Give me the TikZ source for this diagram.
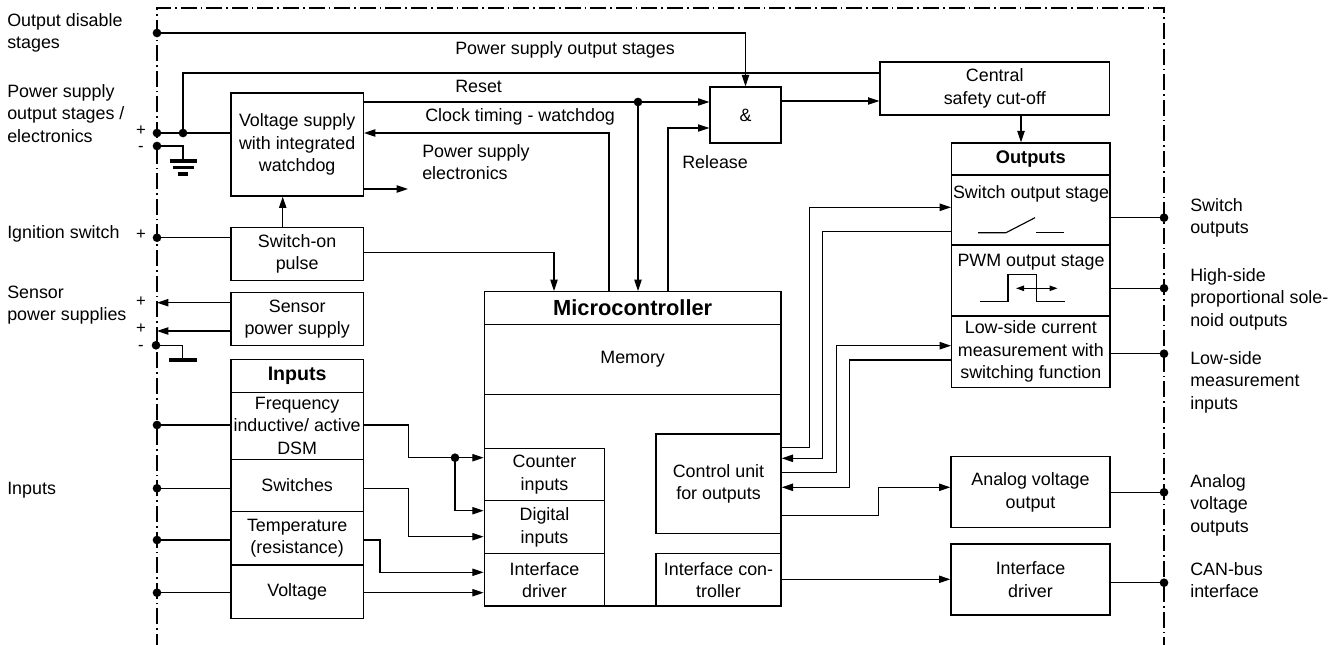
\documentclass[tikz,border=0pt]{standalone}
\usepackage{fontspec}
\setmainfont{Liberation Sans}
\usetikzlibrary{arrows.meta}
\newcommand\fsz{\fontsize{13.4}{16.8}\selectfont}
\newcommand\bx[6]{\node[box, minimum width={((#4)-(#2))*0.75pt}, minimum height={((#5)-(#3))*0.75pt}] (#1) at ({((#2)+(#4))/2},{((#3)+(#5))/2}) {#6};}
\tikzset{
  every node/.style={font=\fsz, inner sep=0pt, align=center},
  box/.style={draw, line width=1pt},
  wire/.style={line width=0.85pt},
  arr/.style={wire, -{Triangle[length=8.5pt,width=5.5pt]}},
  dot/.style={circle, fill, draw=none, minimum size=6.5pt, inner sep=0pt},
  bar/.style={line width=2.8pt},
  lbl/.style={anchor=west, align=left},
  sign/.style={font=\fontsize{12.5}{13}\selectfont, text height=0.55em, text depth=0pt},
  border/.style={line width=0.8pt, dash pattern=on 12pt off 3pt on 1.2pt off 3pt},
}
\begin{document}
\begin{tikzpicture}[x=0.75pt, y=-0.75pt]
\useasboundingbox (0,0) rectangle (1334,645);
% boundary
\draw[border] (157,650) -- (157,8) -- (1164,8) -- (1164,650);

% left labels
\node[lbl] (lOD) at (7,33) {Output disable\\stages};
\node[lbl] (lPS) at (7,113.3) {Power supply\\output stages /\\electronics};
\node[lbl] (lIg) at (7,234) {Ignition switch};
\node[lbl] (lSe) at (7,305) {Sensor\\power supplies};
\node[lbl] (lIn) at (7,490) {Inputs};
\node[sign] (p1) at (141,131.5) {+};
\node[sign] (m1) at (141,147.5) {-};
\node[sign] (p2) at (141,236) {+};
\node[sign] (p3) at (141,303) {+};
\node[sign] (p4) at (141,330) {+};
\node[sign] (m2) at (141,347) {-};

% right labels
\node[lbl] (rSw) at (1190,218) {Switch\\outputs};
\node[lbl] (rHs) at (1190,299) {High-side\\proportional sole-\\noid outputs};
\node[lbl] (rLs) at (1190,382) {Low-side\\measurement\\inputs};
\node[lbl] (rAn) at (1190,505) {Analog\\voltage\\outputs};
\node[lbl] (rCan) at (1190,580) {CAN-bus\\interface};

% boxes
\bx{vs}{231}{93}{363.3}{196}{Voltage supply\\with integrated\\watchdog}
\bx{sop}{231}{227.3}{363.3}{280.7}{Switch-on\\pulse}
\bx{sps}{231}{292.3}{363.3}{345.7}{Sensor\\power supply}
\bx{inT}{231}{359.3}{363.3}{392.3}{\fontsize{14.7}{16}\selectfont\bfseries Inputs}
\bx{inF}{231}{392.3}{363.3}{459.3}{Frequency\\inductive/ active\\DSM}
\bx{inS}{231}{459.3}{363.3}{511.7}{Switches}
\bx{inTe}{231}{511.7}{363.3}{565}{Temperature\\(resistance)}
\bx{inV}{231}{565}{363.3}{618.3}{Voltage}
\bx{and}{710}{87}{781}{143}{\&}
\bx{csc}{880}{62}{1109.5}{115}{Central\\safety cut-off}
\bx{outT}{951.7}{143}{1110}{175}{\fontsize{13.7}{16}\selectfont\bfseries Outputs}
\bx{outS}{951.7}{175}{1110}{245}{}
\bx{outP}{951.7}{245}{1110}{316}{}
\bx{outL}{951.7}{316}{1110}{387.3}{Low-side current\\measurement with\\switching function}
\bx{mc}{484.3}{291.7}{781}{606}{}
\bx{mcT}{484.3}{291.7}{781}{324.3}{\fontsize{16.4}{18}\selectfont\bfseries Microcontroller}
\bx{mem}{484.3}{324.3}{781}{394.3}{Memory}
\bx{cnt}{484.3}{448.3}{604.7}{500.7}{Counter\\inputs}
\bx{dig}{484.3}{500.7}{604.7}{553.7}{Digital\\inputs}
\bx{idm}{484.3}{553.7}{604.7}{606}{Interface\\driver}
\bx{cu}{656}{434}{781}{533.3}{Control unit\\for outputs}
\bx{ic}{656}{553.7}{781}{606}{Interface con-\\troller}
\bx{avo}{951}{456.7}{1110}{527.7}{Analog voltage\\output}
\bx{idr}{951}{544}{1110}{615}{Interface\\driver}

\node (tSOS) at (1031,194) {Switch output stage};
\node (tPWM) at (1031,262) {PWM output stage};

% free labels
\node[lbl] (tPSO) at (455,50) {Power supply output stages};
\node[lbl] (tRes) at (455,86) {Reset};
\node[lbl] (tClk) at (425,117) {Clock timing - watchdog};
\node[lbl] (tPSE) at (422,162) {Power supply\\electronics};
\node[lbl] (tRel) at (682,162) {Release};

% dots
\node[dot] (dOD) at (157,33) {};
\node[dot] (dP1) at (157,133) {};
\node[dot] (dP2) at (183,133) {};
\node[dot] (dG1) at (157,146) {};
\node[dot] (dIg) at (157,237.7) {};
\node[dot] (dG2) at (156,345.3) {};
\node[dot] (dI1) at (157,425) {};
\node[dot] (dI2) at (157,488.3) {};
\node[dot] (dI3) at (157,540) {};
\node[dot] (dI4) at (157,592.7) {};
\node[dot] (dR) at (638,102) {};
\node[dot] (dJ) at (455,457.7) {};
\node[dot] (dO1) at (1164,217.7) {};
\node[dot] (dO2) at (1164,288.3) {};
\node[dot] (dO3) at (1164,353.7) {};
\node[dot] (dO4) at (1164,492.3) {};
\node[dot] (dO5) at (1164,582.7) {};
\coordinate (pse) at (408,189);
\coordinate (s1) at (157,302.7);
\coordinate (s2) at (157,331);

% top connectors
\draw[arr] (dOD.center) -| (and.north);
\draw[wire] (dP2.center) |- (csc.west |- 0,73);
\draw[wire] (dP1.center) -- (vs.west |- dP1);
\draw[wire] (dG1.center) -- (183,146) -- (183,159);
\draw[bar] (169.5,161.3) -- (196.5,161.3);
\draw[bar] (172.5,167.5) -- (193.5,167.5);
\draw[bar] (178,173.7) -- (188,173.7);
\draw[arr] (vs.east |- 0,102) -- (and.west |- 0,102);
\draw[arr] (dR.center) -- (dR.center |- mc.north);
\draw[arr] (mc.north -| 609,0) |- (vs.east |- 0,133);
\draw[arr] (vs.east |- pse) -- (pse);
\draw[arr] (mc.north -| 668,0) |- (and.west |- 0,128);
\draw[arr] (and.east |- 0,101) -- (csc.west |- 0,101);
\draw[arr] (csc.south -| 1021,0) -- (outT.north -| 1021,0);
\draw[arr] (sop.north -| 282.7,0) -- (vs.south -| 282.7,0);
\draw[arr] (sop.east |- 0,252.3) -| (mc.north -| 554,0);
\draw[wire] (dIg.center) -- (sop.west |- dIg);
\draw[arr] (sps.west |- s1) -- (s1);
\draw[arr] (sps.west |- s2) -- (s2);
\draw[wire] (dG2.center) -- (182.7,345.3) -- (182.7,358.5);
\draw[bar] (169,360.3) -- (196.7,360.3);

% inputs
\draw[wire] (dI1.center) -- (inF.west |- dI1);
\draw[wire] (dI2.center) -- (inS.west |- dI2);
\draw[wire] (dI3.center) -- (inTe.west |- dI3);
\draw[wire] (dI4.center) -- (inV.west |- dI4);
\draw[arr] (inF.east |- dI1) -| (408.3,457.7) -- (cnt.west |- 0,457.7);
\draw[arr] (dJ.center) |- (dig.west |- 0,510.7);
\draw[arr] (inS.east |- dI2) -| (408.3,536.7) -- (dig.west |- 0,536.7);
\draw[arr] (inTe.east |- dI3) -| (380,572.3) -- (idm.west |- 0,572.3);
\draw[arr] (inV.east |- dI4) -- (idm.west |- dI4);

% control unit <-> outputs
\draw[arr] (cu.east |- 0,447.7) -| (809.6,207.3) -- (outS.west |- 0,207.3);
\draw[arr] (outS.west |- 0,231.7) -| (822.6,458.3) -- (cu.east |- 0,458.3);
\draw[arr] (cu.east |- 0,472.7) -| (836.4,345.7) -- (outL.west |- 0,345.7);
\draw[arr] (outL.west |- 0,360) -| (849.8,487.3) -- (cu.east |- 0,487.3);
\draw[arr] (cu.east |- 0,515.7) -| (878.5,487.3) -- (avo.west |- 0,487.3);
\draw[arr] (ic.east |- 0,579.3) -- (idr.west |- 0,579.3);

% right outputs
\draw[wire] (outS.east |- dO1) -- (dO1.center);
\draw[wire] (outP.east |- dO2) -- (dO2.center);
\draw[wire] (outL.east |- dO3) -- (dO3.center);
\draw[wire] (avo.east |- dO4) -- (dO4.center);
\draw[wire] (idr.east |- dO5) -- (dO5.center);

% symbols
\draw[wire] (978,232.7) -- (1006,232.7) -- (1035,217.7);
\draw[wire] (1036,232.7) -- (1063.6,232.7);
\draw[wire] (979.8,301.7) -- (1008,301.7) -- (1008,274.3) -- (1036.8,274.3) -- (1036.8,301.7) -- (1065,301.7);
\draw[wire, {Triangle[length=6pt,width=4pt]}-{Triangle[length=6pt,width=4pt]}] (1016,288.3) -- (1057.6,288.3);
\end{tikzpicture}
\end{document}
